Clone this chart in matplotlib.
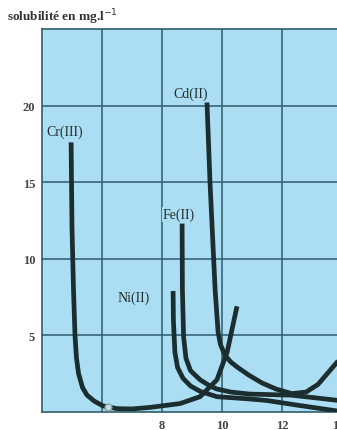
import numpy as np
import matplotlib.pyplot as plt
from matplotlib.transforms import ScaledTranslation

# courbes de solubilité des hydroxydes (pH, mg/l)
cr_ph = [4.97, 5.0, 5.05, 5.1, 5.15, 5.22, 5.35, 5.5, 5.75, 6.03, 6.5, 7.0, 7.6, 8.6, 9.27, 9.83, 10.17, 10.5]
cr_sol = [17.6, 12.0, 8.0, 5.0, 3.5, 2.5, 1.6, 1.1, 0.7, 0.4, 0.22, 0.2, 0.3, 0.55, 1.0, 2.1, 3.9, 6.9]

cd_ph = [9.5, 9.6, 9.77, 9.87, 9.95, 10.1, 10.3, 10.53, 10.9, 11.33, 11.8, 12.33, 12.8, 13.2, 13.9]
cd_sol = [20.2, 15.0, 8.0, 5.2, 4.4, 3.7, 3.25, 2.9, 2.4, 1.9, 1.5, 1.2, 1.3, 1.8, 3.4]

fe_ph = [8.67, 8.68, 8.72, 8.8, 8.95, 9.27, 9.6, 9.83, 10.3, 10.93, 12.3, 13.0, 13.9]
fe_sol = [12.3, 8.0, 4.9, 3.5, 2.7, 2.1, 1.7, 1.5, 1.3, 1.17, 1.1, 0.95, 0.75]

ni_ph = [8.37, 8.38, 8.43, 8.52, 8.7, 8.95, 9.27, 9.83, 10.93, 11.5, 12.5, 13.9]
ni_sol = [7.9, 6.0, 3.9, 2.9, 2.2, 1.7, 1.35, 1.0, 0.85, 0.75, 0.45, 0.05]

labels = ["Cr(III)", "Cd(II)", "Fe(II)", "Ni(II)"]
label_pos = [(4.75, 18.3), (8.95, 20.8), (8.55, 12.9), (7.05, 7.5)]

x_ticks = [8, 10, 12, 14]
y_ticks = [5, 10, 15, 20]

serif = "Liberation Serif"
ink = "#1c2d30"
grid_col = "#2f5d6b"
bg = "#abdef2"

fig = plt.figure(figsize=(3.37, 4.31), dpi=100)
fig.patch.set_facecolor("white")
ax = fig.add_axes([42 / 337, 18 / 431, 315 / 337, 383 / 431])
ax.set_facecolor(bg)
ax.set_xlim(4, 14.5)
ax.set_ylim(0, 25)

for gx in np.arange(6, 15, 2):
    ax.axvline(gx, color=grid_col, lw=1.1, zorder=1)
for gy in np.arange(5, 25, 5):
    ax.axhline(gy, color=grid_col, lw=1.1, zorder=1)

for xs, ys in [(cr_ph, cr_sol), (cd_ph, cd_sol), (fe_ph, fe_sol), (ni_ph, ni_sol)]:
    ax.plot(xs, ys, color=ink, lw=3.4, solid_capstyle="butt",
            solid_joinstyle="round", zorder=3)

ax.scatter([6.2], [0.3], s=24, facecolor="#c9dde4", edgecolor="#8a9aa0", lw=1, zorder=4)

for txt, (lx, ly) in zip(labels, label_pos):
    ax.text(lx, ly, txt, fontsize=10, family=serif, color="#222e30",
            ha="center", va="center", zorder=5,
            bbox=dict(boxstyle="square,pad=0.05", fc=bg, ec="none"))

ax.set_xticks(x_ticks)
ax.set_yticks(y_ticks)
ax.tick_params(length=0, labelsize=9, colors="#444444", pad=5)
for lab in ax.get_xticklabels() + ax.get_yticklabels():
    lab.set_family(serif)
    lab.set_fontweight("bold")

# le dernier libellé (14) déborde à droite : on le décale un peu
last = ax.get_xticklabels()[-1]
last.set_transform(last.get_transform() + ScaledTranslation(-4 / 100, 0, fig.dpi_scale_trans))

ax.spines["right"].set_visible(False)
for side in ["left", "bottom", "top"]:
    ax.spines[side].set_color(grid_col)
    ax.spines[side].set_linewidth(1.2)

fig.text(7 / 337, 1 - 17 / 431, "solubilité en mg.l$^{-1}$", fontsize=9.5, family=serif,
         fontweight="bold", color="#333333", va="center")

fig.savefig("out.png", dpi=100)
